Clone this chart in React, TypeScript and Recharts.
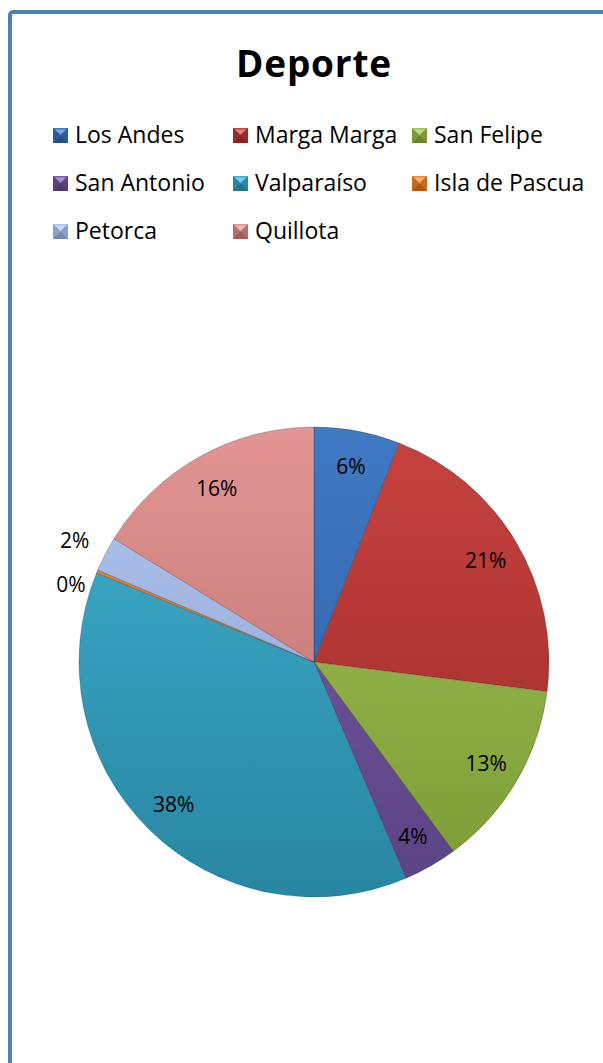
import { PieChart, Pie, Cell } from "recharts";

const provinces = [
  "Los Andes",
  "Marga Marga",
  "San Felipe",
  "San Antonio",
  "Valparaíso",
  "Isla de Pascua",
  "Petorca",
  "Quillota",
];
const shares = [5.9, 21.1, 12.9, 3.7, 37.6, 0.2, 2.4, 16.2];
const topColors = ["#4079c4", "#c8423f", "#a2c458", "#7a5fa8", "#3fb0cf", "#f08a3a", "#b0c5ee", "#e29592"];
const bottomColors = ["#2c5c9c", "#9a2b2a", "#7b9b34", "#5a4283", "#2886a2", "#c86a1e", "#8ba0cf", "#b86e6c"];

const FONT = "'Open Sans', 'Noto Sans', sans-serif";
const RADIAN = Math.PI / 180;
const CX = 314;
const CY = 662;
const R = 235;

const data = provinces.map((name, i) => ({ name, value: shares[i] }));

function renderLabel(props: any) {
  const { cx, cy, midAngle, outerRadius, percent, index } = props;
  const text = `${Math.round(percent * 100)}%`;
  const cos = Math.cos(-midAngle * RADIAN);
  const sin = Math.sin(-midAngle * RADIAN);
  if (percent < 0.03) {
    // small slices sit outside, pushed apart like Excel does
    const r = outerRadius + 18;
    const nudge = percent < 0.005 ? 20 : -6;
    return (
      <text
        key={`l-${index}`}
        x={cx + r * cos + (nudge > 0 ? 5 : 0)}
        y={cy + r * sin + nudge}
        textAnchor="end"
        dominantBaseline="central"
        fontFamily={FONT}
        fontSize={21}
        fill="#000"
      >
        {text}
      </text>
    );
  }
  const r = outerRadius * 0.85;
  return (
    <text
      key={`l-${index}`}
      x={cx + r * cos}
      y={cy + r * sin}
      textAnchor="middle"
      dominantBaseline="central"
      fontFamily={FONT}
      fontSize={21}
      fill="#000"
    >
      {text}
    </text>
  );
}

function Marker({ i }: { i: number }) {
  return (
    <svg width={15} height={15} style={{ display: "block" }}>
      <rect x={0} y={0} width={15} height={15} fill={bottomColors[i]} />
      <polygon points="0,0 15,0 7.5,7.5" fill={topColors[i]} />
      <polygon points="2,1.5 13,1.5 7.5,6.5" fill="#fff" opacity={0.35} />
      <polygon points="0,15 15,15 7.5,7.5" fill="#000" opacity={0.15} />
    </svg>
  );
}

const legendCols = [53, 233, 412];
const legendBaselines = [143, 191, 239];

export default function App() {
  return (
    <div style={{ position: "fixed", inset: 0, overflow: "hidden", background: "#fff" }}>
      <div
        style={{
          position: "absolute",
          left: 8,
          top: 10,
          width: 700,
          height: 1200,
          border: "4px solid #4f81bd",
          borderRadius: 5,
          boxSizing: "border-box",
        }}
      />
      <div
        style={{
          position: "absolute",
          left: 0,
          width: 628,
          top: 44,
          textAlign: "center",
          fontFamily: FONT,
          fontWeight: 700,
          fontSize: 37,
          lineHeight: "37px",
          letterSpacing: 0.8,
          color: "#000",
        }}
      >
        Deporte
      </div>
      {provinces.map((name, i) => {
        const col = legendCols[i % 3];
        const base = legendBaselines[Math.floor(i / 3)];
        return (
          <div key={name}>
            <div style={{ position: "absolute", left: col, top: base - 15 }}>
              <Marker i={i} />
            </div>
            <div
              style={{
                position: "absolute",
                left: col + 22,
                top: base - 33,
                fontFamily: FONT,
                fontSize: 23,
                lineHeight: "48px",
                whiteSpace: "nowrap",
                color: "#000",
              }}
            >
              {name}
            </div>
          </div>
        );
      })}
      <div style={{ position: "absolute", left: 0, top: 0 }}>
        <PieChart width={603} height={1063} margin={{ top: 0, right: 0, bottom: 0, left: 0 }}>
          <defs>
            {provinces.map((name, i) => (
              <linearGradient
                key={name}
                id={`g${i}`}
                gradientUnits="userSpaceOnUse"
                x1={0}
                y1={CY - R}
                x2={0}
                y2={CY + R}
              >
                <stop offset="0%" stopColor={topColors[i]} />
                <stop offset="100%" stopColor={bottomColors[i]} />
              </linearGradient>
            ))}
          </defs>
          <Pie
            data={data}
            dataKey="value"
            nameKey="name"
            cx={CX}
            cy={CY}
            outerRadius={R}
            startAngle={90}
            endAngle={-270}
            stroke="rgba(0,0,0,0.25)"
            strokeWidth={0.8}
            label={renderLabel}
            labelLine={false}
            isAnimationActive={false}
          >
            {data.map((d, i) => (
              <Cell key={d.name} fill={`url(#g${i})`} />
            ))}
          </Pie>
        </PieChart>
      </div>
    </div>
  );
}
